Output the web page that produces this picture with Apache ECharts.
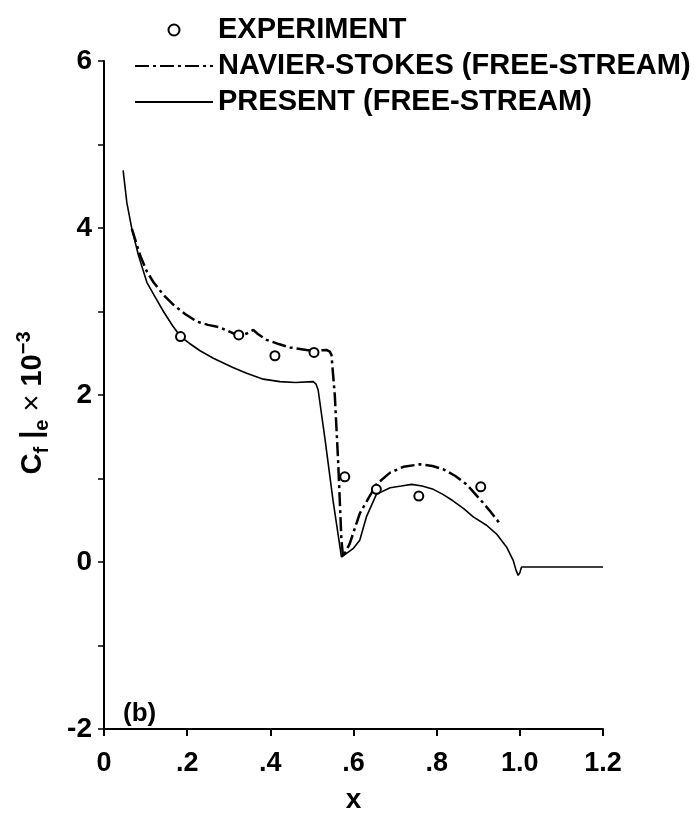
<!DOCTYPE html>
<html>
<head>
<meta charset="utf-8">
<script src="https://cdn.jsdelivr.net/npm/echarts@6/dist/echarts.min.js"></script>
<style>html,body{margin:0;padding:0;background:#fff}#c{width:700px;height:819px}</style>
</head>
<body>
<div id="c"></div>
<script>
// ---- data ----
var xTickLabels = ['0', '.2', '.4', '.6', '.8', '1.0', '1.2'];
var yTickLabels = {'-2': '-2', '0': '0', '2': '2', '4': '4', '6': '6'};

var presentX = [0.046,0.055,0.067,0.083,0.103,0.12,0.143,0.165,0.184,0.205,0.231,0.263,0.31,0.343,0.383,0.423,0.46,0.503,0.51,0.515,0.531,0.551,0.571,0.585,0.599,0.615,0.631,0.655,0.688,0.715,0.74,0.765,0.792,0.815,0.84,0.865,0.888,0.92,0.945,0.968,0.984,0.991,0.996,1.0,1.004,1.1,1.2];
var presentY = [4.69,4.30,3.99,3.67,3.35,3.20,3.00,2.83,2.70,2.62,2.53,2.44,2.33,2.26,2.19,2.16,2.15,2.16,2.13,2.06,1.49,0.73,0.06,0.11,0.16,0.26,0.54,0.81,0.89,0.91,0.93,0.91,0.87,0.81,0.73,0.64,0.54,0.44,0.33,0.18,0.02,-0.10,-0.16,-0.13,-0.06,-0.06,-0.06];

var nsX = [0.067,0.087,0.103,0.119,0.143,0.167,0.195,0.223,0.25,0.279,0.31,0.327,0.345,0.359,0.37,0.391,0.42,0.447,0.487,0.503,0.535,0.543,0.547,0.555,0.563,0.571,0.575,0.591,0.615,0.655,0.688,0.72,0.76,0.79,0.816,0.845,0.872,0.908,0.93,0.952];
var nsY = [3.99,3.67,3.48,3.35,3.20,3.08,2.97,2.88,2.84,2.81,2.74,2.71,2.74,2.78,2.73,2.66,2.61,2.57,2.54,2.53,2.54,2.52,2.48,2.0,1.21,0.26,0.06,0.22,0.58,0.93,1.07,1.14,1.17,1.15,1.11,1.03,0.93,0.73,0.60,0.46];

var expX = [0.184,0.324,0.411,0.505,0.579,0.655,0.757,0.906];
var expY = [2.70,2.72,2.47,2.51,1.02,0.87,0.79,0.90];

var seriesNames = ['EXPERIMENT', 'NAVIER-STOKES (FREE-STREAM)', 'PRESENT (FREE-STREAM)'];

function pairs(xs, ys) { return xs.map(function (v, i) { return [v, ys[i]]; }); }

var FONT = '"Liberation Sans", Arial, Helvetica, sans-serif';
var chart = echarts.init(document.getElementById('c'), null, {renderer: 'canvas'});
chart.setOption({
  animation: false,
  backgroundColor: '#fff',
  grid: {left: 104, right: 97, top: 61, bottom: 85, containLabel: false},
  legend: {
    orient: 'vertical',
    left: 129, top: 7,
    itemWidth: 78, itemHeight: 11, itemGap: 0,
    selectedMode: false,
    textStyle: {fontFamily: FONT, fontSize: 29, fontWeight: 'bold', color: '#000', lineHeight: 36},
    data: [
      {name: seriesNames[0], itemStyle: {color: '#fff', borderColor: '#000', borderWidth: 2, opacity: 1}},
      {name: seriesNames[1], itemStyle: {opacity: 0}},
      {name: seriesNames[2], itemStyle: {opacity: 0}}
    ]
  },
  xAxis: {
    type: 'value', min: 0, max: 1.2, interval: 0.2,
    axisLine: {onZero: false, lineStyle: {color: '#000', width: 2}},
    axisTick: {show: true, inside: false, length: 7, lineStyle: {color: '#000', width: 2}},
    splitLine: {show: false},
    axisLabel: {
      color: '#000', fontFamily: FONT, fontSize: 27, fontWeight: 'bold', margin: 21,
      formatter: function (v) { return xTickLabels[Math.round(v / 0.2)]; }
    },
    name: 'x', nameLocation: 'middle', nameGap: 57,
    nameTextStyle: {color: '#000', fontFamily: FONT, fontSize: 28, fontWeight: 'bold'}
  },
  yAxis: {
    type: 'value', min: -2, max: 6, interval: 2,
    axisLine: {onZero: false, lineStyle: {color: '#000', width: 2}},
    axisTick: {show: true, inside: false, length: 6, lineStyle: {color: '#000', width: 1.5}},
    minorTick: {show: true, splitNumber: 2, length: 6, lineStyle: {color: '#000', width: 1.5}},
    splitLine: {show: false},
    axisLabel: {
      color: '#000', fontFamily: FONT, fontSize: 28, fontWeight: 'bold', margin: 12,
      formatter: function (v) { return yTickLabels[String(v)]; }
    }
  },
  graphic: [
    {
      type: 'text', x: 33, y: 403, rotation: Math.PI / 2,
      style: {
        text: '{c|C}{s|f}{c| |}{s|e}{m| × }{c|10}{p|−3}',
        align: 'center', verticalAlign: 'middle', fill: '#000',
        rich: {
          c: {fontFamily: FONT, fontSize: 29, fontWeight: 'bold', lineHeight: 38, verticalAlign: 'middle', fill: '#000'},
          m: {fontFamily: FONT, fontSize: 29, fontWeight: 'normal', lineHeight: 38, verticalAlign: 'middle', fill: '#000'},
          s: {fontFamily: FONT, fontSize: 20, fontWeight: 'bold', lineHeight: 19, verticalAlign: 'bottom', fill: '#000'},
          p: {fontFamily: FONT, fontSize: 20, fontWeight: 'bold', lineHeight: 19, verticalAlign: 'top', fill: '#000'}
        }
      }
    },
    {
      type: 'text', left: 123, top: 701,
      style: {text: '(b)', fontFamily: FONT, fontSize: 26, fontWeight: 'bold', fill: '#000'}
    }
  ],
  series: [
    {
      name: seriesNames[0], type: 'scatter', z: 5,
      symbol: 'circle', symbolSize: 9,
      itemStyle: {color: '#fff', borderColor: '#000', borderWidth: 2, opacity: 1},
      data: pairs(expX, expY)
    },
    {
      name: seriesNames[1], type: 'line', symbol: 'none', smooth: false,
      lineStyle: {color: '#000', width: 2.5, type: [14, 4, 3, 4]},
      itemStyle: {color: '#000'},
      data: pairs(nsX, nsY)
    },
    {
      name: seriesNames[2], type: 'line', symbol: 'none', smooth: false,
      lineStyle: {color: '#000', width: 1.6},
      itemStyle: {color: '#000'},
      data: pairs(presentX, presentY)
    }
  ]
});
</script>
</body>
</html>
